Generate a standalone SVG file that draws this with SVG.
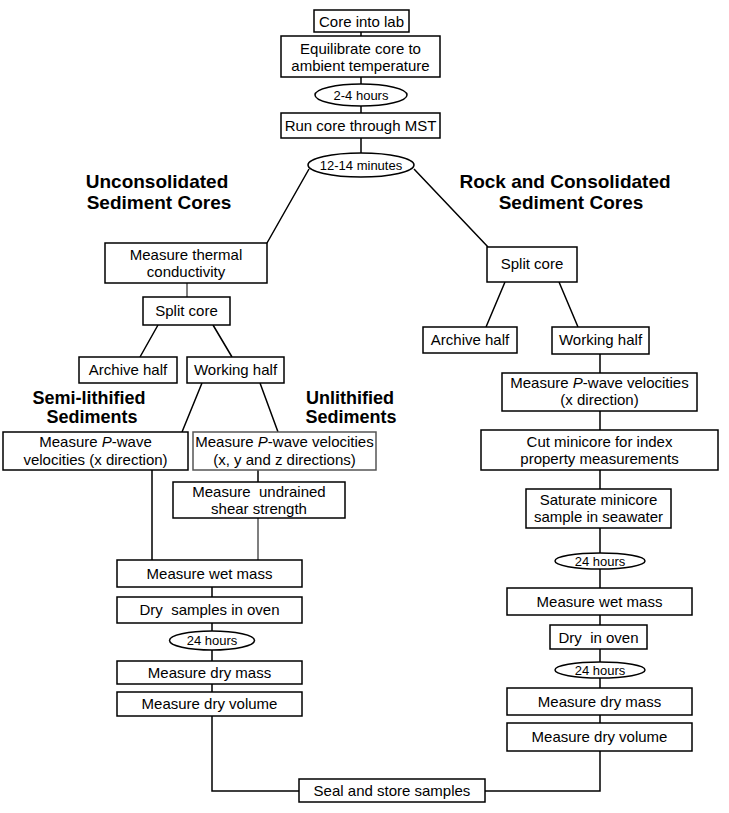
<svg xmlns="http://www.w3.org/2000/svg" width="729" height="813" viewBox="0 0 729 813">
<style>
.b{fill:#fff;stroke:#000;stroke-width:1.5}
.g{fill:#fff;stroke:#555;stroke-width:1.5}
.t{font-family:"Liberation Sans",Arial,sans-serif;font-size:15px;fill:#000;text-anchor:middle}
.h{font-family:"Liberation Sans",Arial,sans-serif;font-size:19px;font-weight:bold;fill:#000;text-anchor:middle}
.h2{font-family:"Liberation Sans",Arial,sans-serif;font-size:18px;font-weight:bold;fill:#000;text-anchor:middle}
.c{fill:none;stroke:#000;stroke-width:1.5}
.cg{fill:none;stroke:#555;stroke-width:1.5}
</style>
<rect width="729" height="813" fill="#fff"/>
<g id="connectors">
<path class="c" d="M361,32V36M361,77V84M361,106V113M361,138V153"/>
<path class="c" d="M309,169L267,243M414,169L488,247"/>
<path class="cg" d="M187,283V297"/>
<path class="c" d="M158,325L140,357M213,325L232,357"/>
<path class="c" d="M202,383L182,432M260,383L278,432"/>
<path class="c" d="M258,470V482M152,470V560"/>
<path class="cg" d="M258,518V560"/>
<path class="c" d="M212,587V597M212,623V631M212,650V661M212,684V692"/>
<path class="c" d="M212,716V791H299M485,791H600V751"/>
<path class="c" d="M505,282L486,327M559,282L578,327"/>
<path class="c" d="M600,354V373M600,411V430M600,470V489M600,528V553M600,569V588M600,615V625M600,649V662M600,678V688M600,715V723"/>
</g>
<g id="core_into_lab"><rect class="b" x="314" y="10" width="95" height="22"/><text class="t" x="361.5" y="26.5">Core into lab</text></g>
<g id="equilibrate"><rect class="b" x="281" y="36" width="159" height="41"/><text class="t" x="360.5" y="54">Equilibrate core to</text><text class="t" x="360.5" y="71">ambient temperature</text></g>
<g id="h2_4"><ellipse class="b" cx="361" cy="95" rx="46" ry="11"/><text class="t" x="361" y="100" style="font-size:13px">2-4 hours</text></g>
<g id="run_mst"><rect class="b" x="281" y="113" width="159" height="25"/><text class="t" x="360.5" y="131">Run core through MST</text></g>
<g id="m12_14"><ellipse class="b" cx="361" cy="165" rx="53" ry="12"/><text class="t" x="361" y="170" style="font-size:13px">12-14 minutes</text></g>
<g id="head_uncons"><text class="h" x="157" y="188">Unconsolidated</text><text class="h" x="159" y="209">Sediment Cores</text></g>
<g id="head_rock"><text class="h" x="565" y="188">Rock and Consolidated</text><text class="h" x="571" y="209">Sediment Cores</text></g>
<g id="thermal"><rect class="b" x="105" y="243" width="162" height="40"/><text class="t" x="186" y="260">Measure thermal</text><text class="t" x="186" y="277">conductivity</text></g>
<g id="split_left"><rect class="b" x="143" y="297" width="87" height="28"/><text class="t" x="186.5" y="316">Split core</text></g>
<g id="archive_left"><rect class="b" x="79" y="357" width="98" height="26"/><text class="t" x="128" y="375">Archive half</text></g>
<g id="working_left"><rect class="b" x="187" y="357" width="97" height="26"/><text class="t" x="235.5" y="375">Working half</text></g>
<g id="head_semi"><text class="h2" x="89" y="404">Semi-lithified</text><text class="h2" x="92" y="423">Sediments</text></g>
<g id="head_unlith"><text class="h2" x="350" y="404">Unlithified</text><text class="h2" x="351" y="423">Sediments</text></g>
<g id="pwave_left"><rect class="b" x="3" y="432" width="185" height="38"/><text class="t" x="95.5" y="447">Measure <tspan font-style="italic">P</tspan>-wave</text><text class="t" x="95.5" y="465">velocities (x direction)</text></g>
<g id="pwave_mid"><rect class="g" x="193" y="432" width="183" height="38"/><text class="t" x="284.5" y="447">Measure <tspan font-style="italic">P</tspan>-wave velocities</text><text class="t" x="284.5" y="465">(x, y and z directions)</text></g>
<g id="undrained"><rect class="b" x="173" y="482" width="172" height="36"/><text class="t" x="259" y="497" xml:space="preserve">Measure  undrained</text><text class="t" x="259" y="514">shear strength</text></g>
<g id="wet_left"><rect class="b" x="117" y="560" width="185" height="27"/><text class="t" x="209.5" y="579">Measure wet mass</text></g>
<g id="dry_samples"><rect class="b" x="117" y="597" width="185" height="26"/><text class="t" x="209.5" y="615" xml:space="preserve">Dry  samples in oven</text></g>
<g id="h24_left"><ellipse class="b" cx="212" cy="640.5" rx="42.5" ry="9.5"/><text class="t" x="212" y="645" style="font-size:13px">24 hours</text></g>
<g id="drymass_left"><rect class="b" x="117" y="661" width="185" height="23"/><text class="t" x="209.5" y="678">Measure dry mass</text></g>
<g id="dryvol_left"><rect class="b" x="117" y="692" width="185" height="24"/><text class="t" x="209.5" y="709">Measure dry volume</text></g>
<g id="seal"><rect class="b" x="299" y="779" width="186" height="23"/><text class="t" x="392" y="796">Seal and store samples</text></g>
<g id="split_right"><rect class="b" x="487" y="247" width="90" height="35"/><text class="t" x="532" y="269">Split core</text></g>
<g id="archive_right"><rect class="b" x="423" y="327" width="94" height="26"/><text class="t" x="470" y="345">Archive half</text></g>
<g id="working_right"><rect class="b" x="552" y="327" width="97" height="27"/><text class="t" x="600.5" y="345">Working half</text></g>
<g id="pwave_right"><rect class="b" x="502" y="373" width="195" height="38"/><text class="t" x="599.5" y="388">Measure <tspan font-style="italic">P</tspan>-wave velocities</text><text class="t" x="599.5" y="405">(x direction)</text></g>
<g id="cut_minicore"><rect class="b" x="481" y="430" width="237" height="40"/><text class="t" x="599.5" y="447">Cut minicore for index</text><text class="t" x="599.5" y="464">property measurements</text></g>
<g id="saturate"><rect class="b" x="526" y="489" width="145" height="39"/><text class="t" x="598.5" y="505">Saturate minicore</text><text class="t" x="598.5" y="522">sample in seawater</text></g>
<g id="h24_r1"><ellipse class="b" cx="600" cy="561" rx="45" ry="8"/><text class="t" x="600" y="566" style="font-size:13px">24 hours</text></g>
<g id="wet_right"><rect class="b" x="507" y="588" width="185" height="27"/><text class="t" x="599.5" y="607">Measure wet mass</text></g>
<g id="dry_oven"><rect class="b" x="550" y="625" width="97" height="24"/><text class="t" x="598.5" y="643" xml:space="preserve">Dry  in oven</text></g>
<g id="h24_r2"><ellipse class="b" cx="600" cy="670" rx="45" ry="8"/><text class="t" x="600" y="675" style="font-size:13px">24 hours</text></g>
<g id="drymass_right"><rect class="b" x="507" y="688" width="185" height="27"/><text class="t" x="599.5" y="707">Measure dry mass</text></g>
<g id="dryvol_right"><rect class="b" x="507" y="723" width="185" height="28"/><text class="t" x="599.5" y="742">Measure dry volume</text></g>
</svg>
